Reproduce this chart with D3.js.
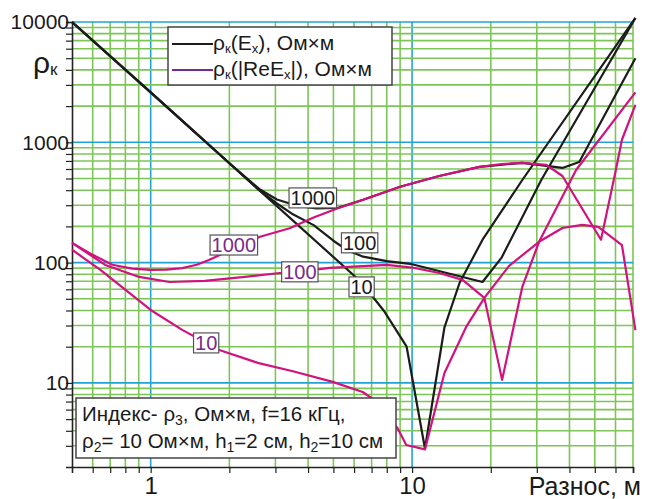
<!DOCTYPE html>
<html>
<head>
<meta charset="utf-8">
<script src="https://cdn.jsdelivr.net/npm/d3@7"></script>
<style>
  body { margin: 0; background: #fff; }
  text { font-family: "Liberation Sans", Arial, sans-serif; }
</style>
</head>
<body>
<script>
// spacing (m) and apparent resistivity (Ohm*m)
var xB1000 = [0.5, 1, 2, 2.6, 3.04, 3.6, 4.3, 5.2, 6.5, 9, 12.7, 18.1, 26.4, 37.6, 43.6, 71.5];
var yB1000 = [10000, 2600, 670, 410, 335, 298, 282, 285, 333, 427, 525, 624, 675, 612, 687, 5000];

var xB100 = [0.5, 1, 2, 2.6, 3.04, 3.5, 4.2, 5.0, 5.6, 6.5, 8, 10, 18.6, 22, 31.2, 71.5];
var yB100 = [10000, 2600, 670, 400, 310, 252, 205, 152, 128, 112, 103, 97, 69, 110, 486, 10800];

var xB10 = [0.5, 1, 2, 6.2, 7.07, 7.85, 9.53, 11.2, 13.3, 15.2, 18.6, 26.4, 71.5];
var yB10 = [10000, 2600, 670, 73, 52, 39, 20, 2.85, 29, 68, 155, 486, 10800];

var xM1000 = [0.5, 0.6, 0.713, 0.85, 1.0, 1.15, 1.32, 1.5, 1.67, 2.08, 2.62, 3.4, 4.2, 5.2, 6.5, 9, 12.7, 18.1, 22, 26.4, 32.6, 37.6, 52.8, 60.2, 63.5, 71.5];
var yM1000 = [146, 116, 96, 89, 87, 87.5, 90, 96, 105, 131, 164, 193, 237, 283, 333, 427, 525, 624, 660, 675, 650, 525, 155, 590, 1050, 2050];

var xM100 = [0.5, 0.67, 0.904, 1.18, 1.61, 2.29, 3.12, 3.72, 4.84, 8.0, 10, 12.7, 15.6, 18.9, 22.1, 26.4, 30.6, 42.4, 71.5];
var yM100 = [146, 95.6, 76, 69, 70.5, 76, 82, 84, 90.4, 95.6, 91, 82, 71.8, 50.9, 10.6, 62.8, 149, 589, 2600];

var xM10 = [0.5, 0.642, 1.0, 1.32, 1.83, 2.59, 3.5, 4.97, 6.47, 7.18, 8.8, 9.5, 11.2, 13.3, 16.1, 18.9, 23.5, 30.6, 37.6, 44.8, 51.5, 63.5, 71.5];
var yM10 = [128, 87, 40.4, 27.6, 18.8, 14.6, 12.5, 10.2, 8.4, 7.2, 4.2, 3.05, 2.8, 12.1, 29.2, 50.9, 94, 149, 194, 206, 198, 140, 27.5];

// curve labels (rho3 value) placed in data space
var labelText = ["1000", "100", "10", "1000", "100", "10"];
var labelX = [4.17, 6.3, 6.41, 2.08, 3.72, 1.63];
var labelY = [345, 146, 62.8, 140, 83.8, 21.5];

var xTickLabels = [1, 10];
var yTickLabels = [10, 100, 1000, 10000];

var black = "#1c1c1c", magenta = "#d2127e", purple = "#7a2a8c";

var series = [
  {xs: xB1000, ys: yB1000, color: black},
  {xs: xB100, ys: yB100, color: black},
  {xs: xB10, ys: yB10, color: black},
  {xs: xM1000, ys: yM1000, color: magenta},
  {xs: xM100, ys: yM100, color: magenta},
  {xs: xM10, ys: yM10, color: magenta}
];

var screen = {width: 649, height: 499};
var svg = d3.select("body").append("svg")
            .attr("width", screen.width)
            .attr("height", screen.height);

var x = d3.scaleLog().domain([0.5, 70]).range([72, 633]);
var y = d3.scaleLog().domain([2, 10000]).range([467, 22]);

var isDecade = function(d) {
  var l = Math.log10(d);
  return Math.abs(l - Math.round(l)) < 1e-6;
};

// grid
var grid = svg.append("g");
grid.selectAll(".vx")
    .data(x.ticks().filter(function(d) { return d > 0.5; }))
    .enter().append("line")
    .attr("x1", function(d) { return x(d); })
    .attr("x2", function(d) { return x(d); })
    .attr("y1", y(10000)).attr("y2", y(2))
    .attr("stroke", function(d) { return isDecade(d) ? "#22a3d6" : "#7cc657"; })
    .attr("stroke-width", 1.6);
grid.selectAll(".hy")
    .data(y.ticks().filter(function(d) { return d > 2; }))
    .enter().append("line")
    .attr("x1", x(0.5)).attr("x2", x(70))
    .attr("y1", function(d) { return y(d); })
    .attr("y2", function(d) { return y(d); })
    .attr("stroke", function(d) { return isDecade(d) ? "#22a3d6" : "#7cc657"; })
    .attr("stroke-width", 1.6);

// axes
var yAxis = svg.append("g")
   .attr("transform", "translate(" + x(0.5) + ",0)")
   .call(d3.axisLeft(y).tickValues(y.ticks().filter(function(d) { return d > 2; }))
         .tickSize(6).tickPadding(-3)
         .tickFormat(function(d) { return yTickLabels.indexOf(d) >= 0 ? d : ""; }));
var xAxis = svg.append("g")
   .attr("transform", "translate(0," + y(2) + ")")
   .call(d3.axisBottom(x).tickValues(x.ticks().filter(function(d) { return d > 0.5; }))
         .tickSize(6).tickPadding(4)
         .tickFormat(function(d) { return xTickLabels.indexOf(d) >= 0 ? d : ""; }));
[yAxis, xAxis].forEach(function(a) {
  a.select(".domain").attr("stroke", "#222").attr("stroke-width", 1.6);
  a.selectAll(".tick line").attr("stroke", "#222").attr("stroke-width", 1.2);
  a.selectAll("text").attr("fill", "#1a1a1a").style("font-family", "Liberation Sans, Arial, sans-serif");
});
yAxis.selectAll("text").style("font-size", "21px");
xAxis.selectAll("text").style("font-size", "24px");

// axis titles
var yt = svg.append("text").attr("x", 33).attr("y", 73).attr("fill", "#1a1a1a")
            .style("font-size", "30px");
yt.append("tspan").text("ρ");
yt.append("tspan").text("к").style("font-size", "17px").attr("dy", 2);

svg.append("text").attr("x", 641).attr("y", 495)
   .attr("text-anchor", "end").attr("fill", "#1a1a1a")
   .style("font-size", "25px").text("Разнос, м");

// curves
var line = d3.line()
             .x(function(d) { return x(d[0]); })
             .y(function(d) { return y(d[1]); });

series.forEach(function(s) {
  svg.append("path")
     .datum(d3.zip(s.xs, s.ys))
     .attr("d", line)
     .attr("fill", "none")
     .attr("stroke", s.color)
     .attr("stroke-width", 2.2)
     .attr("stroke-linejoin", "round");
});

// curve labels
labelText.forEach(function(t, i) {
  var g = svg.append("g");
  var txt = g.append("text")
     .attr("x", x(labelX[i])).attr("y", y(labelY[i]))
     .attr("dy", "0.36em")
     .attr("text-anchor", "middle")
     .attr("fill", i < 3 ? "#1a1a1a" : purple)
     .style("font-size", "20px")
     .text(t);
  var w = txt.node().getComputedTextLength();
  g.insert("rect", "text")
   .attr("x", x(labelX[i]) - w / 2 - 1.5)
   .attr("y", y(labelY[i]) - 10)
   .attr("width", w + 3).attr("height", 20)
   .attr("fill", "#fff").attr("stroke", "#555").attr("stroke-width", 1.2);
});

// legend
var leg = svg.append("g");
leg.append("rect").attr("x", 168).attr("y", 27).attr("width", 224).attr("height", 58)
   .attr("fill", "#fff").attr("stroke", "#444").attr("stroke-width", 1.5);
[[black, 44, ["ρ", "к", "(E", "x", "), Ом×м"]],
 [purple, 70, ["ρ", "к", "(|ReE", "x", "|), Ом×м"]]].forEach(function(e) {
  leg.append("line").attr("x1", 172).attr("x2", 213)
     .attr("y1", e[1]).attr("y2", e[1])
     .attr("stroke", e[0]).attr("stroke-width", 2);
  var t = leg.append("text").attr("x", 213).attr("y", e[1] + 6)
             .attr("fill", "#1a1a1a").style("font-size", "21px");
  e[2].forEach(function(p, k) {
    var sp = t.append("tspan").text(p);
    if (k % 2 == 1) sp.style("font-size", "13px").attr("dy", 3);
    else if (k > 0) sp.attr("dy", -3);
  });
});

// parameter box
var note = svg.append("g");
note.append("rect").attr("x", 76).attr("y", 398).attr("width", 320).attr("height", 60)
    .attr("fill", "#fff").attr("stroke", "#444").attr("stroke-width", 1.5);
var rows = [
  ["Индекс- ρ", "3", ", Ом×м, f=16 кГц,"],
  ["ρ", "2", "= 10 Ом×м, h", "1", "=2 см, h", "2", "=10 см"]
];
rows.forEach(function(r, j) {
  var t = note.append("text").attr("x", 82).attr("y", 421 + j * 27)
              .attr("fill", "#1a1a1a").style("font-size", "20.5px");
  r.forEach(function(p, k) {
    var sp = t.append("tspan").text(p);
    if (k % 2 == 1) sp.style("font-size", "14px").attr("dy", 4);
    else if (k > 0) sp.attr("dy", -4);
  });
});
</script>
</body>
</html>
